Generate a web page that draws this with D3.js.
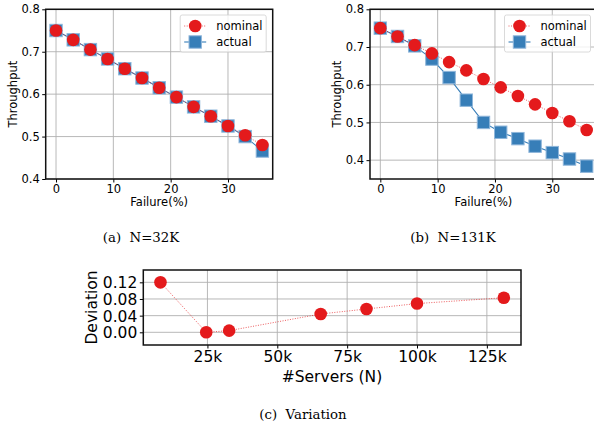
<!DOCTYPE html>
<html><head><meta charset="utf-8">
<script src="https://cdn.jsdelivr.net/npm/d3@7"></script>
<style>body{margin:0;background:#fff}svg{display:block}</style>
</head><body>
<svg id="c" width="594" height="427"></svg>
<script>
const failures = [0,3,6,9,12,15,18,21,24,27,30,33,36];
const nominalA = [0.750,0.728,0.705,0.683,0.660,0.638,0.615,0.593,0.570,0.548,0.525,0.503,0.480];
const actualA  = [0.750,0.728,0.705,0.683,0.660,0.638,0.615,0.593,0.570,0.548,0.525,0.500,0.466];
const nominalB = [0.750,0.728,0.705,0.683,0.660,0.638,0.615,0.593,0.570,0.548,0.525,0.503,0.480];
const actualB  = [0.750,0.728,0.703,0.668,0.619,0.559,0.500,0.474,0.457,0.437,0.420,0.403,0.384];
const servers = [8192,24576,32768,65536,81920,100000,131072];
const deviation = [0.120,0.000,0.004,0.044,0.056,0.069,0.083];
const yTicksTop = [0.4,0.5,0.6,0.7,0.8];
const xTicksTop = [0,10,20,30];
const yTicksC = [0,0.04,0.08,0.12];
const xTicksC = [25000,50000,75000,100000,125000];
const seriesNames = ["nominal","actual"];
const captions = ["(a)\u00a0\u00a0N=32K","(b)\u00a0\u00a0N=131K","(c)\u00a0\u00a0Variation"];

const RED = "#e41a1c", BLUE = "#377eb8", GRID = "#b0b0b0";
const svg = d3.select("#c");
const FONT = "DejaVu Sans, sans-serif";
const SERIF = "DejaVu Serif, serif";
const FS = 11.5, FSC = 15.5;

function frame(g, w, h) {
  g.append("rect").attr("x",0).attr("y",0).attr("width",w).attr("height",h)
    .attr("fill","none").attr("stroke","#111").attr("stroke-width",1.5);
}

function topPanel(ox, nominal, actual, yDom, caption, capX) {
  const L = 45.7, T = 9.3, W = 227, H = 169.7;
  const g = svg.append("g").attr("transform", `translate(${ox},0)`);
  const x = d3.scaleLinear().domain([-1.8, 37.8]).range([L, L+W]);
  const y = d3.scaleLinear().domain(yDom).range([T+H, T]);
  const clipId = "clip"+Math.round(ox);
  g.append("clipPath").attr("id",clipId).append("rect").attr("x",L).attr("y",T).attr("width",W).attr("height",H);
  const grid = g.append("g");
  xTicksTop.forEach(v => grid.append("line").attr("x1",x(v)).attr("x2",x(v)).attr("y1",T).attr("y2",T+H).attr("stroke",GRID).attr("stroke-width",0.9));
  yTicksTop.filter(v=>v>=yDom[0]).forEach(v => grid.append("line").attr("x1",L).attr("x2",L+W).attr("y1",y(v)).attr("y2",y(v)).attr("stroke",GRID).attr("stroke-width",0.9));
  const data = failures.map((f,i)=>({f, n: nominal[i], a: actual[i]}));
  const pg = g.append("g").attr("clip-path", `url(#${clipId})`);
  pg.append("path").datum(data).attr("fill","none").attr("stroke",BLUE).attr("stroke-width",1.1)
    .attr("d", d3.line().x(d=>x(d.f)).y(d=>y(d.a)));
  pg.selectAll(".sq").data(data).enter().append("rect")
    .attr("x",d=>x(d.f)-6.2).attr("y",d=>y(d.a)-6.2).attr("width",12.4).attr("height",12.4)
    .attr("fill",BLUE).attr("stroke","#8fb6da").attr("stroke-width",1);
  pg.append("path").datum(data).attr("fill","none").attr("stroke",RED).attr("stroke-width",1).attr("stroke-dasharray","1,1.5").attr("opacity",0.7)
    .attr("d", d3.line().x(d=>x(d.f)).y(d=>y(d.n)));
  pg.selectAll(".ci").data(data).enter().append("circle")
    .attr("cx",d=>x(d.f)).attr("cy",d=>y(d.n)).attr("r",6.3).attr("fill",RED);
  const ax = g.append("g").attr("transform",`translate(0,${T+H})`)
    .call(d3.axisBottom(x).tickValues(xTicksTop).tickSize(3.5).tickPadding(2.5));
  const ay = g.append("g").attr("transform",`translate(${L},0)`)
    .call(d3.axisLeft(y).tickValues(yTicksTop.filter(v=>v>=yDom[0])).tickFormat(d3.format(".1f")).tickSize(3.5).tickPadding(2.5));
  [ax,ay].forEach(a=>{a.select(".domain").remove(); a.selectAll("text").attr("font-family",FONT).attr("font-size",FS).attr("fill","#000");a.selectAll("line").attr("stroke","#000");});
  frame(g.append("g").attr("transform",`translate(${L},${T})`), W, H);
  g.append("text").attr("transform",`translate(${13},${T+H/2}) rotate(-90)`).attr("text-anchor","middle").attr("dominant-baseline","central")
    .attr("font-family",FONT).attr("font-size",FS).text("Throughput");
  g.append("text").attr("x",L+W/2).attr("y",206).attr("text-anchor","middle")
    .attr("font-family",FONT).attr("font-size",FS).text("Failure(%)");
  // legend
  const lx = L+W-92.5, ly = T+5.7;
  const lg = g.append("g").attr("transform",`translate(${lx},${ly})`);
  lg.append("rect").attr("x",0).attr("y",0).attr("width",86).attr("height",37).attr("rx",2)
    .attr("fill","#fff").attr("fill-opacity",0.8).attr("stroke","#d0d0d0").attr("stroke-width",0.8);
  lg.append("line").attr("x1",4).attr("x2",26).attr("y1",11).attr("y2",11).attr("stroke",RED).attr("stroke-dasharray","1,1.5").attr("opacity",0.7);
  lg.append("circle").attr("cx",15).attr("cy",11).attr("r",6.3).attr("fill",RED);
  lg.append("line").attr("x1",4).attr("x2",26).attr("y1",27).attr("y2",27).attr("stroke",BLUE).attr("stroke-width",1.1);
  lg.append("rect").attr("x",8.8).attr("y",20.8).attr("width",12.4).attr("height",12.4).attr("fill",BLUE).attr("stroke","#8fb6da");
  seriesNames.forEach((s,i)=>lg.append("text").attr("x",36).attr("y",11+16*i).attr("dominant-baseline","central")
    .attr("font-family",FONT).attr("font-size",FS).text(s));
  svg.append("text").attr("x",capX).attr("y",242).attr("text-anchor","middle")
    .attr("font-family",SERIF).attr("font-size",13.3).text(caption);
}

topPanel(0, nominalA, actualA, [0.4,0.8], captions[0], 141);
topPanel(324.3, nominalB, actualB, [0.35,0.8], captions[1], 453);

// panel c
(function(){
  const L = 143.3, T = 270, W = 377.7, H = 75;
  const g = svg.append("g");
  const x = d3.scaleLinear().domain([2048, 137216]).range([L, L+W]);
  const y = d3.scaleLinear().domain([-0.0305, 0.1496]).range([T+H, T]);
  xTicksC.forEach(v => g.append("line").attr("x1",x(v)).attr("x2",x(v)).attr("y1",T).attr("y2",T+H).attr("stroke",GRID).attr("stroke-width",0.9));
  yTicksC.forEach(v => g.append("line").attr("x1",L).attr("x2",L+W).attr("y1",y(v)).attr("y2",y(v)).attr("stroke",GRID).attr("stroke-width",0.9));
  const data = servers.map((s,i)=>({s, d: deviation[i]}));
  g.append("path").datum(data).attr("fill","none").attr("stroke",RED).attr("stroke-width",1).attr("stroke-dasharray","1,1.5").attr("opacity",0.7)
    .attr("d", d3.line().x(d=>x(d.s)).y(d=>y(d.d)));
  g.selectAll(".cc").data(data).enter().append("circle").attr("cx",d=>x(d.s)).attr("cy",d=>y(d.d)).attr("r",6.3).attr("fill",RED);
  const ax = g.append("g").attr("transform",`translate(0,${T+H})`)
    .call(d3.axisBottom(x).tickValues(xTicksC).tickFormat(v=>(v/1000)+"k").tickSize(3.5).tickPadding(2.5));
  const ay = g.append("g").attr("transform",`translate(${L},0)`)
    .call(d3.axisLeft(y).tickValues(yTicksC).tickFormat(d3.format(".2f")).tickSize(3.5).tickPadding(2.5));
  [ax,ay].forEach(a=>{a.select(".domain").remove(); a.selectAll("text").attr("font-family",FONT).attr("font-size",FSC).attr("fill","#000");a.selectAll("line").attr("stroke","#000");});
  ay.selectAll("text").attr("dy","0.35em");
  frame(g.append("g").attr("transform",`translate(${L},${T})`), W, H);
  g.append("text").attr("transform",`translate(${91.5},${T+H/2}) rotate(-90)`).attr("text-anchor","middle").attr("dominant-baseline","central")
    .attr("font-family",FONT).attr("font-size",FSC).text("Deviation");
  g.append("text").attr("x",332).attr("y",382).attr("text-anchor","middle")
    .attr("font-family",FONT).attr("font-size",FSC).text("#Servers (N)");
  svg.append("text").attr("x",303).attr("y",419).attr("text-anchor","middle")
    .attr("font-family",SERIF).attr("font-size",13.3).text(captions[2]);
})();
</script>
</body></html>
